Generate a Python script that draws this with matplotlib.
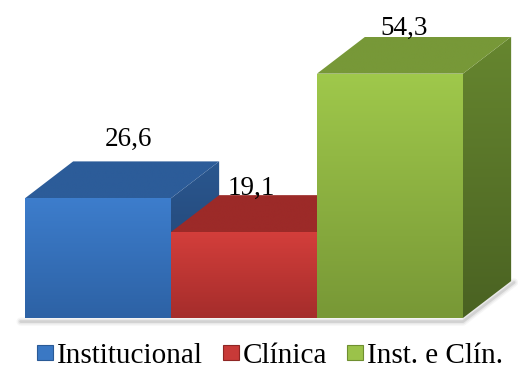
import numpy as np
import matplotlib
matplotlib.use("Agg")
import matplotlib.pyplot as plt
from matplotlib.patches import Polygon, Patch
from matplotlib.colors import LinearSegmentedColormap
from matplotlib.font_manager import FontProperties

plt.rcParams['font.family'] = ['Liberation Serif', 'DejaVu Serif']

categories = ['Institucional', 'Clínica', 'Inst. e Clín.']
values = [26.6, 19.1, 54.3]
value_labels = ['26,6', '19,1', '54,3']

# face colours: (front top, front bottom, top face, side top, side bottom)
palette = [
    ('#3d7dcc', '#2d62a5', '#2c5c99', '#2a578f', '#213f6c'),
    ('#d33e3b', '#a52d2b', '#9c2a28', '#8a2624', '#6a1c1b'),
    ('#9fc84b', '#789836', '#779838', '#66862f', '#4a6222'),
]
legend_colors = ['#3a78c4', '#c83a38', '#9bc24a']
legend_edges = ['#2a5a96', '#8e2624', '#6f8f30']

width = 1.0
depth_x = 0.33
depth_y = 8.2

fig = plt.figure(figsize=(5.18, 3.70), dpi=100)
ax = fig.add_axes([0, 0, 1, 1])
ax.set_xlim(-0.671, 2.877)
ax.set_ylim(-11.56, 70.67)
ax.axis('off')


def grad_face(verts, c1, c2, z):
    poly = Polygon(verts, closed=True, facecolor='none', edgecolor='none')
    ax.add_patch(poly)
    xs = [v[0] for v in verts]
    ys = [v[1] for v in verts]
    cmap = LinearSegmentedColormap.from_list('g', [c2, c1])
    g = np.linspace(0, 1, 64).reshape(-1, 1)
    im = ax.imshow(g, cmap=cmap, origin='lower', aspect='auto',
                   extent=[min(xs), max(xs), min(ys), max(ys)], zorder=z,
                   interpolation='bilinear')
    im.set_clip_path(poly)


# floor shadow
n = len(values)
x0 = -0.5
x1 = n - 0.5
for lw, a in [(6, 0.05), (4, 0.08), (2, 0.15)]:
    ax.plot([x0 - 0.03, x1, x1 + depth_x + 0.02], [-0.8, -0.8, depth_y - 0.3],
            color='#555555', lw=lw, alpha=a, solid_capstyle='round', zorder=0)

for i, (v, cols) in enumerate(zip(values, palette)):
    l = i - width / 2
    r = i + width / 2
    z = 2 + i * 3
    front = [(l, 0), (r, 0), (r, v), (l, v)]
    top = [(l, v), (r, v), (r + depth_x, v + depth_y), (l + depth_x, v + depth_y)]
    side = [(r, 0), (r + depth_x, depth_y), (r + depth_x, v + depth_y), (r, v)]
    grad_face(side, cols[3], cols[4], z)
    grad_face(top, cols[2], cols[2], z + 1)
    grad_face(front, cols[0], cols[1], z + 2)

label_dx = [0.21, 0.05, 0.10]
label_dy = [11.6, 8.2, 8.6]
for i, (v, t) in enumerate(zip(values, value_labels)):
    ax.text(i + label_dx[i], v + label_dy[i], t, ha='center', va='baseline',
            fontsize=19.5, color='black', zorder=20, family='Liberation Serif')

handles = [Patch(facecolor=c, edgecolor=e, lw=0.8)
           for c, e in zip(legend_colors, legend_edges)]
fig.legend(handles, categories, loc='center', bbox_to_anchor=(0.521, 14 / 370),
           ncol=3, frameon=False,
           prop=FontProperties(family='Liberation Serif', size=21),
           handlelength=0.55, handleheight=0.45, handletextpad=0.12,
           columnspacing=0.7, borderpad=0, borderaxespad=0)

fig.savefig('out.png', dpi=100)
